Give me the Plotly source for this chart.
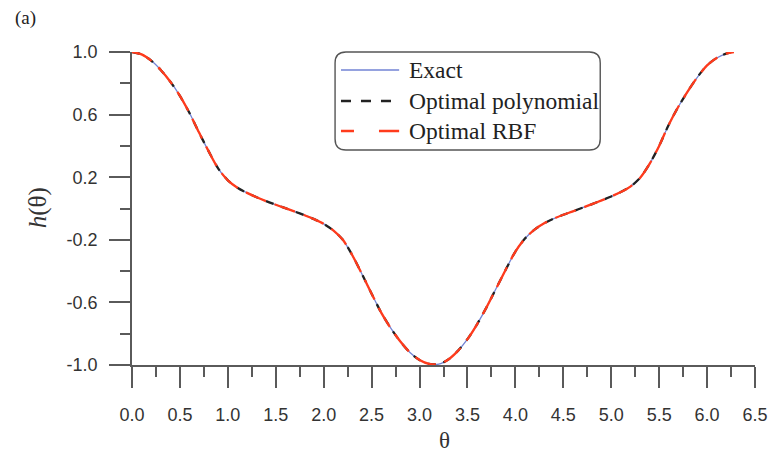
import plotly.graph_objects as go

# theta samples over one period and the response h(theta)
theta = [0.0, 0.1, 0.2, 0.3, 0.4, 0.5, 0.6, 0.7, 0.8, 0.9,
         1.0, 1.1, 1.2, 1.3, 1.4, 1.5, 1.6, 1.7, 1.8, 1.9,
         2.0, 2.1, 2.2, 2.3, 2.4, 2.5, 2.6, 2.7, 2.8, 2.9,
         3.0, 3.1, 3.2, 3.3, 3.4, 3.5, 3.6, 3.7, 3.8, 3.9,
         4.0, 4.1, 4.2, 4.3, 4.4, 4.5, 4.6, 4.7, 4.8, 4.9,
         5.0, 5.1, 5.2, 5.3, 5.4, 5.5, 5.6, 5.7, 5.8, 5.9,
         6.0, 6.1, 6.2, 6.28]

h_exact = [1.000, 0.985, 0.945, 0.885, 0.810, 0.720, 0.610, 0.485, 0.365, 0.255,
           0.180, 0.133, 0.100, 0.072, 0.047, 0.024, 0.002, -0.020, -0.043, -0.068,
           -0.098, -0.140, -0.200, -0.300, -0.420, -0.545, -0.665, -0.765, -0.850, -0.920,
           -0.968, -0.993, -0.995, -0.965, -0.910, -0.835, -0.740, -0.630, -0.510, -0.390,
           -0.275, -0.192, -0.135, -0.095, -0.065, -0.040, -0.018, 0.005, 0.028, 0.052,
           0.077, 0.105, 0.140, 0.195, 0.285, 0.400, 0.535, 0.650, 0.750, 0.840,
           0.915, 0.962, 0.990, 1.000]

# both optimal reconstructions coincide with the exact curve at this scale
h_poly = list(h_exact)
h_rbf = list(h_exact)

series_names = ["Exact", "Optimal polynomial", "Optimal RBF"]

x_ticks = [0.0, 0.5, 1.0, 1.5, 2.0, 2.5, 3.0, 3.5, 4.0, 4.5, 5.0, 5.5, 6.0, 6.5]
x_ticklabels = ["0.0", "0.5", "1.0", "1.5", "2.0", "2.5", "3.0", "3.5",
                "4.0", "4.5", "5.0", "5.5", "6.0", "6.5"]
y_ticks = [-1.0, -0.6, -0.2, 0.2, 0.6, 1.0]
y_ticklabels = ["-1.0", "-0.6", "-0.2", "0.2", "0.6", "1.0"]

BLUE = "#7283d4"
BLACK = "#222222"
RED = "#ff3b1c"
AXIS = "#5a5a5a"

W, H = 780, 452
L, R, T, B = 132, 16, 52, 87


def px(x):
    return (x - L) / (W - L - R)


def py(y):
    return (H - B - y) / (H - T - B)


fig = go.Figure()
fig.add_trace(go.Scatter(x=theta, y=h_exact, mode="lines", name=series_names[0],
                         line=dict(color=BLUE, width=1.3, shape="spline", smoothing=0.8),
                         showlegend=False))
fig.add_trace(go.Scatter(x=theta, y=h_poly, mode="lines", name=series_names[1],
                         line=dict(color=BLACK, width=2.3, dash="8px,8px",
                                   shape="spline", smoothing=0.8),
                         showlegend=False))
fig.add_trace(go.Scatter(x=theta, y=h_rbf, mode="lines", name=series_names[2],
                         line=dict(color=RED, width=2.3, dash="22px,9px",
                                   shape="spline", smoothing=0.8),
                         showlegend=False))

# rounded legend frame
x0, x1, y0, y1, r = px(338), px(607), py(52), py(150), 11
rx, ry = r / (W - L - R), r / (H - T - B)
frame = (f"M {x0 + rx},{y0} L {x1 - rx},{y0} Q {x1},{y0} {x1},{y0 - ry} "
         f"L {x1},{y1 + ry} Q {x1},{y1} {x1 - rx},{y1} "
         f"L {x0 + rx},{y1} Q {x0},{y1} {x0},{y1 + ry} "
         f"L {x0},{y0 - ry} Q {x0},{y0} {x0 + rx},{y0} Z")
shapes = [dict(type="path", path=frame, xref="paper", yref="paper",
               line=dict(color="#555555", width=1.4), fillcolor="rgba(0,0,0,0)")]

legend_rows = [70, 101, 131]
legend_styles = [dict(color=BLUE, width=1.3, dash="solid"),
                 dict(color=BLACK, width=2.3, dash="10px,10px"),
                 dict(color=RED, width=2.3, dash="13px,25px,21px")]
annotations = []
for name, yy, st in zip(series_names, legend_rows, legend_styles):
    shapes.append(dict(type="line", xref="paper", yref="paper",
                       x0=px(344), x1=px(403), y0=py(yy), y1=py(yy), line=st))
    annotations.append(dict(text=name, xref="paper", yref="paper", x=px(411), y=py(yy),
                            xanchor="left", yanchor="middle", showarrow=False,
                            font=dict(family="Liberation Serif", size=23.5, color="#222222")))

annotations += [
    dict(text="(a)", xref="paper", yref="paper", x=px(11), y=py(18),
         xanchor="left", yanchor="middle", showarrow=False,
         font=dict(family="Liberation Serif", size=19, color="#222222")),
    dict(text="θ", xref="paper", yref="paper", x=px(449), y=py(440),
         xanchor="center", yanchor="middle", showarrow=False,
         font=dict(family="Liberation Serif", size=23, color="#333333")),
    dict(text="<i>h</i>(θ)", xref="paper", yref="paper", x=px(37), y=py(208),
         xanchor="center", yanchor="middle", showarrow=False, textangle=-90,
         font=dict(family="Liberation Serif", size=25, color="#333333")),
]

tickfont = dict(family="Liberation Sans", size=18, color="#333333")
fig.update_layout(
    width=W, height=H, margin=dict(l=L, r=R, t=T, b=B),
    paper_bgcolor="white", plot_bgcolor="white",
    shapes=shapes, annotations=annotations,
    xaxis=dict(range=[0, 6.5], tickvals=x_ticks, ticktext=x_ticklabels,
               showgrid=False, zeroline=False, showline=True, linecolor=AXIS, linewidth=1.5,
               ticks="outside", ticklen=21, tickwidth=1.5, tickcolor=AXIS,
               tickfont=tickfont, ticklabelstandoff=12,
               minor=dict(tick0=0, dtick=0.25, ticks="outside", ticklen=10,
                          tickwidth=1.5, tickcolor=AXIS, showgrid=False)),
    yaxis=dict(range=[-1, 1], tickvals=y_ticks, ticktext=y_ticklabels,
               showgrid=False, zeroline=False, showline=True, linecolor=AXIS, linewidth=1.5,
               ticks="outside", ticklen=21, tickwidth=1.5, tickcolor=AXIS,
               tickfont=tickfont, ticklabelstandoff=8,
               minor=dict(tick0=-1, dtick=0.2, ticks="outside", ticklen=10,
                          tickwidth=1.5, tickcolor=AXIS, showgrid=False)),
)

fig.write_html("out.html")
